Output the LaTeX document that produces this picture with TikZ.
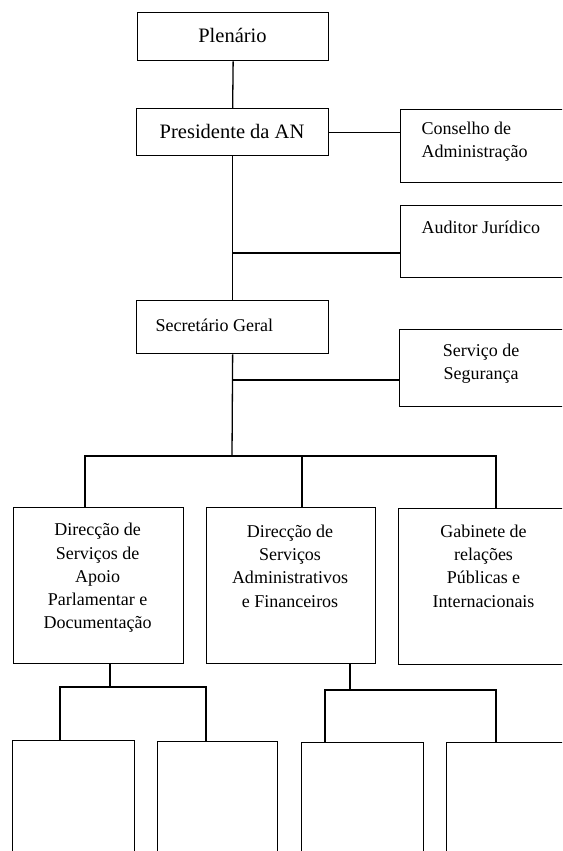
\documentclass[tikz,border=0pt]{standalone}
\usepackage{fontspec}
\setmainfont{Liberation Serif}
\begin{document}
\begin{tikzpicture}[x=1pt,y=-1pt,line width=1.3pt,
  box/.style={draw,line width=1.3pt,rectangle,inner sep=0pt,anchor=north west},
  txt/.style={inner sep=0pt,font=\fontsize{18}{23.3}\selectfont,align=center},
  ltxt/.style={inner sep=0pt,font=\fontsize{18}{23.3}\selectfont,align=left,anchor=west},
  big/.style={inner sep=0pt,font=\fontsize{20.5}{24}\selectfont}]
\useasboundingbox (0,0) rectangle (562,851);
\fill[white] (0,0) rectangle (562,851);
\clip (0,0) rectangle (562,851);
% boxes
\node[box,minimum width=191pt,minimum height=48pt] (plen) at (137,12) {};
\node[box,minimum width=192pt,minimum height=47pt] (pres) at (136,108) {};
\node[box,minimum width=180pt,minimum height=73pt] (cons) at (400,109) {};
\node[box,minimum width=180pt,minimum height=72pt] (aud) at (400,205) {};
\node[box,minimum width=192pt,minimum height=53pt] (sec) at (136,300) {};
\node[box,minimum width=181pt,minimum height=77pt] (seg) at (399,329) {};
\node[box,minimum width=170pt,minimum height=156pt] (d1) at (12.5,507) {};
\node[box,minimum width=168.5pt,minimum height=156pt] (d2) at (206,507) {};
\node[box,minimum width=182pt,minimum height=156pt] (d3) at (398,508) {};
\node[box,minimum width=122pt,minimum height=150pt] (b1) at (12,740) {};
\node[box,minimum width=120pt,minimum height=150pt] (b2) at (157,741) {};
\node[box,minimum width=122pt,minimum height=150pt] (b3) at (301,742) {};
\node[box,minimum width=134pt,minimum height=150pt] (b4) at (446,742) {};
% texts
\node[big] (tplen) at (232.5,35) {Plenário};
\node[big] (tpres) at (232,131) {Presidente da AN};
\node[ltxt] (tcons) at (421,141.5) {Conselho de\\Administração};
\node[ltxt] (taud) at (421,227) {Auditor Jurídico};
\node[ltxt] (tsec) at (155,325) {Secretário Geral};
\node[txt] (tseg) at (481,364) {Serviço de\\Segurança};
\node[txt] (td1) at (97.7,578) {Direcção de\\Serviços de\\Apoio\\Parlamentar e\\Documentação};
\node[txt] (td2) at (290,566) {Direcção de\\Serviços\\Administrativos\\e Financeiros};
\node[txt] (td3) at (483.5,566) {Gabinete de\\relações\\Públicas e\\Internacionais};
% connectors
\draw (plen.south) -- (pres.north);
\draw (pres.east) -- (pres.east -| cons.west);
\draw (pres.south) -- (sec.north);
\coordinate (ja) at (232,253);
\draw (ja) -- (ja -| aud.west);
\coordinate (js) at (232,380);
\draw (js) -- (js -| seg.west);
\coordinate (jb) at (232,456);
\draw (sec.south) -- (jb);
\coordinate (t1) at (85,456);
\coordinate (t2) at (302,456);
\coordinate (t3) at (496,456);
\draw (t1 |- d1.north) -- (t1) -- (t3) -- (t3 |- d3.north);
\draw (t2) -- (t2 |- d2.north);
\coordinate (u1) at (110,687);
\coordinate (ua) at (60,687);
\coordinate (ub) at (206,687);
\draw (u1 |- d1.south) -- (u1);
\draw (ua |- b1.north) -- (ua) -- (ub) -- (ub |- b2.north);
\coordinate (u2) at (350,690);
\coordinate (uc) at (325,690);
\coordinate (ud) at (496,690);
\draw (u2 |- d2.south) -- (u2);
\draw (uc |- b3.north) -- (uc) -- (ud) -- (ud |- b4.north);
\end{tikzpicture}
\end{document}
